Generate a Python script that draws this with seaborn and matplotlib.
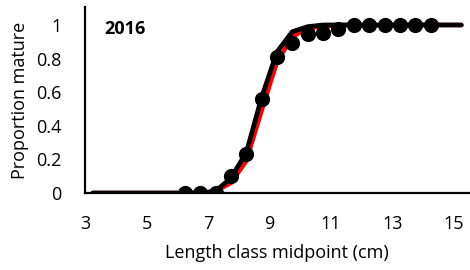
import matplotlib
matplotlib.use("Agg")
import matplotlib.pyplot as plt
import seaborn as sns
import pandas as pd
import numpy as np

sns.set_theme(style="white")
plt.rcParams['font.family'] = ['Open Sans', 'DejaVu Sans']

# observed proportions mature per length class midpoint
obs_x = [6.25, 6.75, 7.25, 7.75, 8.25, 8.75, 9.25, 9.75, 10.25, 10.75, 11.25,
         11.75, 12.25, 12.75, 13.25, 13.75, 14.25]
obs_y = [0.0, 0.0, 0.0, 0.10, 0.23, 0.56, 0.81, 0.89, 0.945, 0.955, 0.975,
         1.0, 1.0, 1.0, 1.0, 1.0, 1.0]

# fitted curves
fit_x = [3.25, 3.75, 4.25, 4.75, 5.25, 5.75, 6.25, 6.75, 7.25, 7.75, 8.25, 8.75,
         9.25, 9.75, 10.25, 10.75, 11.25, 11.75, 12.25, 12.75, 13.25, 13.75,
         14.25, 14.75, 15.25]
fit_red = [0, 0, 0, 0, 0, 0, 0, 0.0, 0.01, 0.06, 0.19, 0.49, 0.78, 0.93, 0.98,
           0.99, 1.0, 1.0, 1.0, 1.0, 1.0, 1.0, 1.0, 1.0, 1.0]
fit_black = [0, 0, 0, 0, 0, 0, 0, 0.0, 0.01, 0.09, 0.24, 0.57, 0.84, 0.96, 0.99,
             1.0, 1.0, 1.0, 1.0, 1.0, 1.0, 1.0, 1.0, 1.0, 1.0]

xticks = [3, 5, 7, 9, 11, 13, 15]
yticks = [0, 0.2, 0.4, 0.6, 0.8, 1]
yticklabels = ["0", "0.2", "0.4", "0.6", "0.8", "1"]

fig = plt.figure(figsize=(4.7, 2.7), dpi=100)
ax = fig.add_axes([85/470, 1-193/270, 384/470, 186/270])

sns.lineplot(x=fit_x, y=fit_red, ax=ax, color="#ff0000", linewidth=3.2, zorder=2)
sns.lineplot(x=fit_x, y=fit_black, ax=ax, color="black", linewidth=3.4, zorder=3)
sns.scatterplot(x=obs_x, y=obs_y, ax=ax, color="black", s=120, edgecolor="black",
                linewidth=0, zorder=4)

fs = 13
ax.set_xlim(3, 15.5)
ax.set_ylim(0, 1.107)
ax.set_xticks(xticks)
ax.set_xticklabels([str(t) for t in xticks])
ax.set_yticks(yticks)
ax.set_yticklabels(yticklabels)
ax.tick_params(axis='both', length=0, labelsize=fs, colors='black')
ax.tick_params(axis='x', pad=16)
ax.tick_params(axis='y', pad=17)
for s in ['top', 'right']:
    ax.spines[s].set_visible(False)
for s in ['left', 'bottom']:
    ax.spines[s].set_color('black')
    ax.spines[s].set_linewidth(1.6)
ax.set_xlabel("Length class midpoint (cm)", fontsize=fs, color='black', labelpad=8)
ax.set_ylabel("Proportion mature", fontsize=fs, color='black', labelpad=5)
ax.text(0.05, 0.88, "2016", transform=ax.transAxes, fontsize=fs,
        fontweight='bold', color='black', ha='left', va='center')

fig.savefig("out.png", dpi=100)
